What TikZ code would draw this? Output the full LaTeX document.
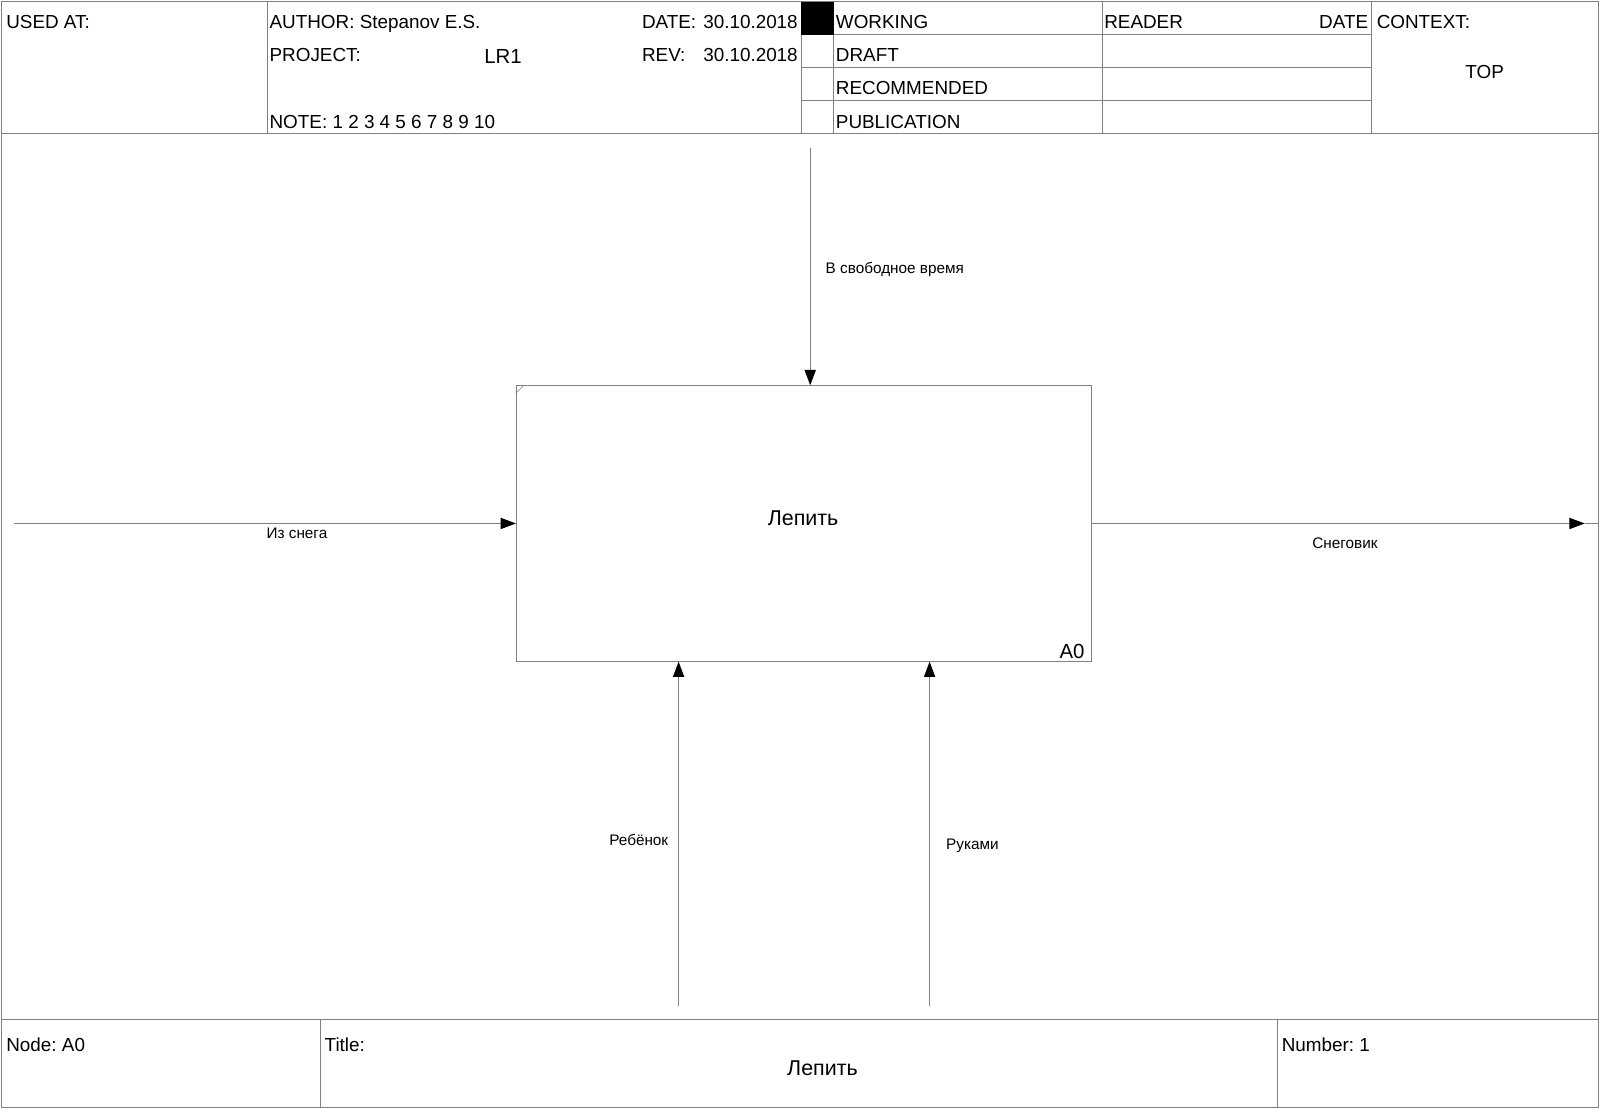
\documentclass[tikz,border=0pt]{standalone}
\usepackage{fontspec}
\setmainfont{Liberation Sans}
\usepackage{xcolor}
\definecolor{Col1}{RGB}{128,128,128}
\usepackage{tikz}
\usetikzlibrary{arrows.meta}
\frenchspacing
\tikzstyle{Line}=[draw=Col1,line width=.9pt]
\tikzstyle{Arrow}=[draw=Col1,line width=.9pt,
-{Triangle[length=15pt,width=11pt,black]}]
\tikzstyle{Box}=[draw=Col1,line width=.9pt,minimum width=564pt,
minimum height=270pt,inner sep=0pt]
\tikzstyle{Form}=[inner sep=0pt,anchor=base west,
font=\fontsize{18.5}{20}\selectfont]
\tikzstyle{FormBig}=[inner sep=0pt,anchor=base,
font=\fontsize{20}{22}\selectfont]
\tikzstyle{Label}=[inner sep=0pt,anchor=base,
font=\fontsize{15}{17}\selectfont]
\tikzstyle{BoxText}=[inner sep=0pt,anchor=base,
font=\fontsize{21}{23}\selectfont]

\begin{document}
\begin{tikzpicture}[x=1pt,y=-1pt]
        \useasboundingbox(0,0)rectangle(1568,1086);
        % frame, header and footer
        \draw[Line](1,1)rectangle(1566,1085);
        \draw[Line](1,131)--(1566,131);
        \foreach \x in {262,785,817,1080,1344}
            \draw[Line](\x,1)--(\x,131);
        \foreach \y in {34,66,98}
            \draw[Line](785,\y)--(1344,\y);
        \fill[black](785,2)rectangle(817,34);
        \draw[Line](1,999)--(1566,999);
        \foreach \x in {314,1252}
            \draw[Line](\x,999)--(\x,1085);
        \node[Form](used)at(6,27.5){USED AT:};
        \node[Form](author)at(264,27.5){AUTHOR: Stepanov E.S.};
        \node[Form](date)at(629,27.5){DATE:};
        \node[Form](dateval)at(689,27.5){30.10.2018};
        \node[Form](project)at(264,60.5){PROJECT:};
        \node[FormBig](lr)at(493,62){LR1};
        \node[Form](rev)at(629,60.5){REV:};
        \node[Form](revval)at(689,60.5){30.10.2018};
        \node[Form](note)at(264,125.5){NOTE: 1 2 3 4 5 6 7 8 9 10};
        \node[Form](working)at(819,27.5){WORKING};
        \node[Form](draft)at(819,60.5){DRAFT};
        \node[Form](recom)at(819,92.5){RECOMMENDED};
        \node[Form](public)at(819,125.5){PUBLICATION};
        \node[Form](reader)at(1082,27.5){READER};
        \node[Form,anchor=base east](rdate)at(1341,27.5){DATE};
        \node[Form](context)at(1349,27.5){CONTEXT:};
        \node[Form,anchor=base](top)at(1455,76.5){TOP};
        \node[Form](nodeno)at(6,1030.5){Node: A0};
        \node[Form](title)at(318,1030.5){Title:};
        \node[BoxText](titletext)at(806,1053.5){Лепить};
        \node[Form](number)at(1256,1030.5){Number: 1};
        % activity
        \node[Box](box)at(788,513){};
        \node[BoxText](name)at(787,514.5){Лепить};
        \node[FormBig,anchor=base east](a0)at(1063,645){A0};
        \draw[Col1,line width=.6pt]([yshift=-8pt]box.north west)
            --([xshift=8pt]box.north west);
        % arrows
        \coordinate(in)at(14,513);
        \coordinate(out)at(1553,513);
        \coordinate(end)at(1566,513);
        \coordinate(ctrl)at(794,145);
        \coordinate(mech1)at(665,986);
        \coordinate(mech2)at(911,986);
        \draw[Arrow](in)--(box.west);
        \draw[Arrow](box.east)--(out);
        \draw[Line](out)--(end);
        \draw[Arrow](ctrl)--(ctrl|-box.north);
        \draw[Arrow](mech1)--(mech1|-box.south);
        \draw[Arrow](mech2)--(mech2|-box.south);
        \node[Label](inl)at(291,527.5){Из снега};
        \node[Label](outl)at(1318,537.5){Снеговик};
        \node[Label,anchor=base west](ctrll)at(809,268.5){В свободное время};
        \node[Label](mech1l)at(626,828.5){Ребёнок};
        \node[Label](mech2l)at(953,832.5){Руками};
    \end{tikzpicture}
\end{document}
